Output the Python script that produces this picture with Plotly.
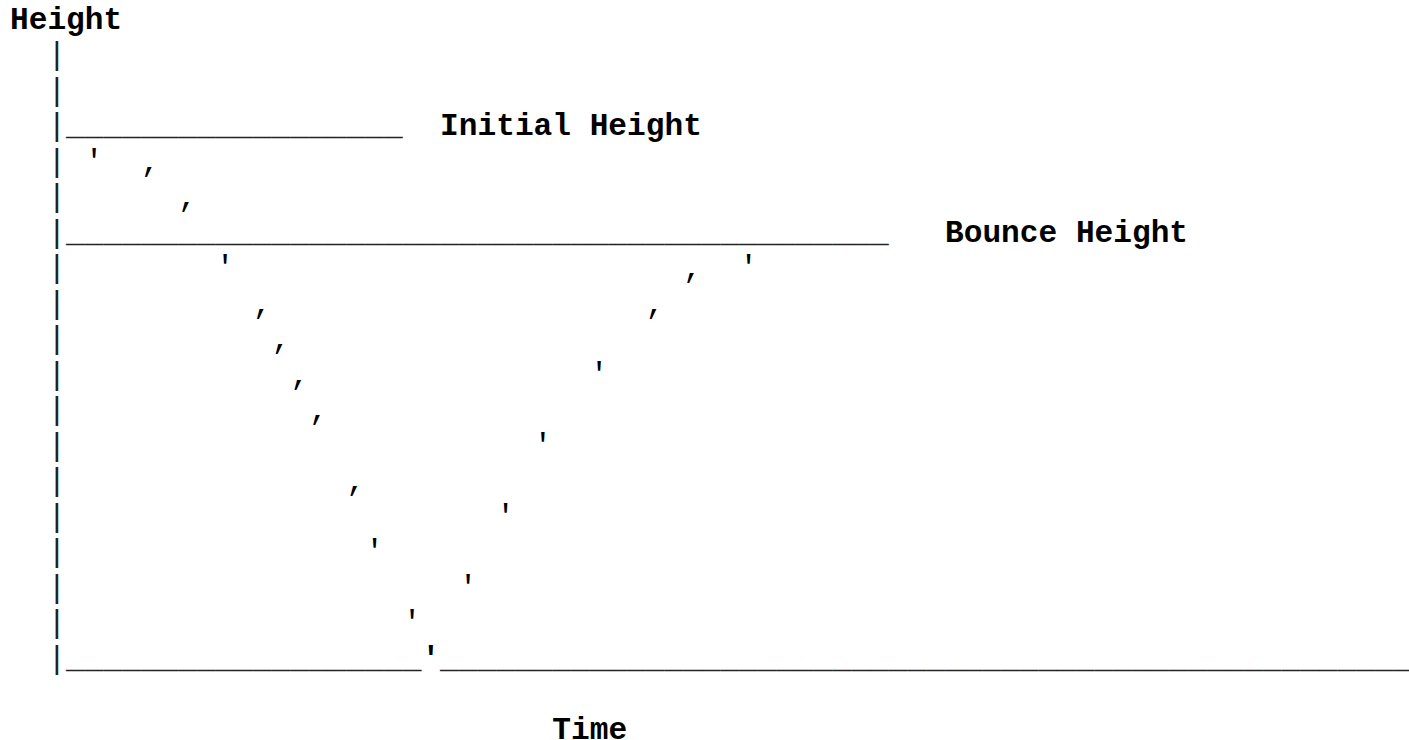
import plotly.graph_objects as go

# ---- chart data (grid: columns = time steps, rows = text lines from the top) ----
axis_col = 2
axis_rows = list(range(1, 19))

level_names = ["Initial Height", "Bounce Height"]
level_rows = [3, 6]
level_end_cols = [20, 46]
level_label_cols = [23, 50]

ground_row = 18
ground_end_col = 74

# ball falling from the initial height
fall_cols = [4, 7, 9, 11, 13, 14, 15, 16, 18, 19, 21]
fall_rows = [4, 4, 5, 7, 8, 9, 10, 11, 13, 15, 17]
fall_marks = ["'", ",", ",", "'", ",", ",", ",", ",", ",", "'", "'"]

# point where the ball hits the ground
impact_col = 22
impact_mark = "'"

# ball rising to the bounce height
rise_cols = [24, 26, 28, 31, 34, 36, 39]
rise_rows = [16, 14, 12, 10, 8, 7, 7]
rise_marks = ["'", "'", "'", "'", ",", ",", "'"]

y_title = "Height"
y_title_col, y_title_row = 0, 0
x_title = "Time"
x_title_col, x_title_row = 29, 20

# ---- layout geometry --------------------------------------------------------
W, H = 1409, 740
CELL_W = 18.7          # width of one monospace character cell (px)
ROW_H = 35.5           # line pitch (px)
LEFT = 10.0            # left edge of column 0 (px)
FIRST_BASE = 29.0      # baseline of row 0 (px)
FS = CELL_W / 0.6      # font size giving that cell width
MONO = "Liberation Mono, Courier New, monospace"
INK = "#000000"
RULE = "#222222"

# scatter text in "middle" position puts the baseline 0.25*fontsize below the point
y0 = FIRST_BASE - 0.25 * FS
x_range = [-LEFT / CELL_W - 0.5, (W - LEFT) / CELL_W - 0.5]
y_range = [(H - y0) / ROW_H, -y0 / ROW_H]

fig = go.Figure()


def glyphs(xs, ys, texts, bold=False, pos="middle center", color=INK):
    fig.add_trace(go.Scatter(
        x=xs, y=ys, text=texts, mode="text", textposition=pos,
        textfont=dict(family=MONO, size=FS, color=color,
                      weight="bold" if bold else "normal"),
        hoverinfo="skip", showlegend=False,
    ))


def run(start_col, end_col, row, ch="_"):
    # a run of characters starting at the left edge of start_col
    glyphs([start_col - 0.5], [row], [ch * (end_col - start_col + 1)],
           pos="middle right", color=RULE)


# vertical axis
glyphs([axis_col] * len(axis_rows), axis_rows, ["|"] * len(axis_rows), color=RULE)

# reference levels and their labels
for name, row, end_col, lab_col in zip(level_names, level_rows, level_end_cols, level_label_cols):
    run(axis_col + 1, end_col, row)
    glyphs([lab_col - 0.5], [row], [name], bold=True, pos="middle right")

# ground line, broken by the impact mark
run(axis_col + 1, impact_col - 1, ground_row)
run(impact_col + 1, ground_end_col, ground_row)
glyphs([impact_col], [ground_row], [impact_mark], bold=True)

# ball path
glyphs(fall_cols, fall_rows, fall_marks)
glyphs(rise_cols, rise_rows, rise_marks)

# axis titles
glyphs([y_title_col - 0.5], [y_title_row], [y_title], bold=True, pos="middle right")
glyphs([x_title_col - 0.5], [x_title_row], [x_title], bold=True, pos="middle right")

fig.update_layout(
    width=W, height=H,
    margin=dict(l=0, r=0, t=0, b=0),
    paper_bgcolor="white", plot_bgcolor="white",
    xaxis=dict(range=x_range, visible=False, fixedrange=True),
    yaxis=dict(range=y_range, visible=False, fixedrange=True),
)

fig.write_html("out.html", config={"displayModeBar": False})
